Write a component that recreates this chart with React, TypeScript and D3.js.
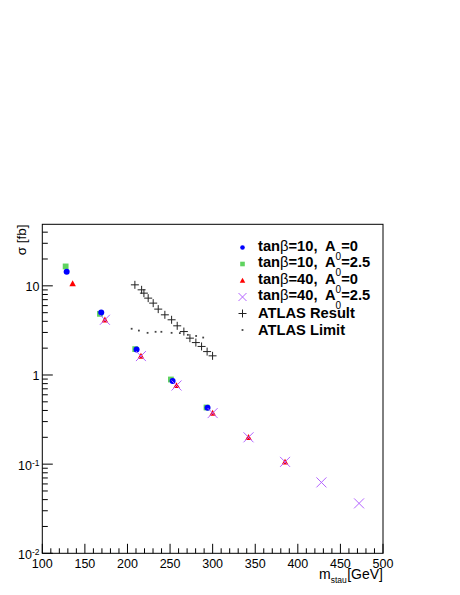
import { useEffect, useRef } from "react";
import * as d3 from "d3";

// tanb=10, A0=0
const blueMass = [128.6, 169.2, 210.7, 253, 294];
const blueXs = [14.4, 5.02, 1.93, 0.855, 0.43];
// tanb=10, A0=2.5
const greenMass = [127.4, 167.7, 209.1, 251, 292.8];
const greenXs = [16.5, 4.85, 1.95, 0.89, 0.432];
// tanb=40, A0=0
const redMass = [135.6, 173.5, 215.8, 257.6, 300, 342.1, 385];
const redXs = [10.6, 4.16, 1.63, 0.762, 0.374, 0.2, 0.106];
// tanb=40, A0=2.5
const violetMass = [173.5, 215.8, 257.6, 300, 342.1, 385, 427.7, 471.9];
const violetXs = [4.16, 1.63, 0.762, 0.374, 0.2, 0.106, 0.0624, 0.0363];
// ATLAS result
const atlasMass = [208.7, 216.6, 219.3, 224.3, 230.2, 236.1, 243.9, 251.8, 258.4, 266.2, 273.3, 280.3, 287, 293.5, 299.9];
const atlasXs = [10.26, 9.02, 8.28, 7.28, 6.4, 5.48, 4.73, 4.16, 3.56, 3.07, 2.59, 2.31, 2.09, 1.83, 1.64];
// ATLAS limit
const limitMass = [204.9, 213.4, 223.6, 233, 239.8, 251.8, 261.5, 270.9, 280.6, 288.9];
const limitXs = [3.3, 3.15, 2.97, 3.05, 3.05, 2.97, 2.95, 2.82, 2.74, 2.63];

const xTickValues = [100, 150, 200, 250, 300, 350, 400, 450, 500];
const yLabelValues = [0.01, 0.1, 1, 10];
const yLabelBase = ["10", "10", "1", "10"];
const yLabelExp = ["-2", "-1", "", ""];

const legendTan = ["tanβ=10,", "tanβ=10,", "tanβ=40,", "tanβ=40,"];
const legendA0 = ["=0", "=2.5", "=0", "=2.5"];
const legendAtlas = ["ATLAS Result", "ATLAS Limit"];

const FONT = "'Liberation Sans', Arial, Helvetica, sans-serif";

export default function App() {
  const ref = useRef<SVGSVGElement>(null);

  useEffect(() => {
    const svg = d3.select(ref.current);
    svg.selectAll("*").remove();

    const x = d3.scaleLinear().domain([100, 500]).range([42.3, 383]);
    const y = d3.scaleLog().domain([0.01, 49]).range([553.3, 224.3]);
    const [x0, x1] = x.range();
    const [yb, yt] = y.range();

    // frame
    svg.append("rect")
      .attr("x", x0).attr("y", yt)
      .attr("width", x1 - x0).attr("height", yb - yt)
      .attr("fill", "none").attr("stroke", "#000").attr("stroke-width", 1);

    // x ticks
    const xt = d3.range(100, 501, 10);
    svg.append("g").selectAll("line").data(xt).enter().append("line")
      .attr("x1", (d) => x(d)).attr("x2", (d) => x(d))
      .attr("y1", yb).attr("y2", (d) => yb - (d % 50 === 0 ? 9.5 : 5))
      .attr("stroke", "#000").attr("stroke-width", 1);
    svg.append("g").selectAll("text").data(xTickValues).enter().append("text")
      .attr("x", (d) => x(d)).attr("y", 567.5)
      .attr("text-anchor", "middle")
      .attr("font-family", FONT).attr("font-size", 12.5)
      .text((d) => d);

    // y ticks
    const isMajor = (v: number) => Math.abs(Math.log10(v) - Math.round(Math.log10(v))) < 1e-6;
    const yt2 = y.ticks().filter((v) => v >= 0.01 && v <= 49);
    svg.append("g").selectAll("line").data(yt2).enter().append("line")
      .attr("x1", x0).attr("x2", (d) => x0 + (isMajor(d) ? 10.5 : 5.5))
      .attr("y1", (d) => y(d)).attr("y2", (d) => y(d))
      .attr("stroke", "#000").attr("stroke-width", 1);
    const yl = svg.append("g").selectAll("text").data(yLabelValues).enter().append("text")
      .attr("x", 39.5).attr("y", (d, i) => y(d) + (yLabelExp[i] ? 6 : 5))
      .attr("text-anchor", "end")
      .attr("font-family", FONT).attr("font-size", 12.5);
    yl.append("tspan").text((d, i) => yLabelBase[i]);
    yl.append("tspan").attr("font-size", 8.5).attr("dy", -4.5).text((d, i) => yLabelExp[i]);

    // axis titles
    svg.append("text")
      .attr("transform", "translate(25.5,224.5) rotate(-90)")
      .attr("text-anchor", "end")
      .attr("font-family", FONT).attr("font-size", 13.5)
      .text("σ [fb]");
    const xtitle = svg.append("text")
      .attr("x", 383).attr("y", 579)
      .attr("text-anchor", "end")
      .attr("font-family", FONT).attr("font-size", 14);
    xtitle.append("tspan").text("m");
    xtitle.append("tspan").attr("font-size", 8.5).attr("dy", 3.5).text("stau");
    xtitle.append("tspan").attr("dy", -3.5).attr("dx", 0.5).text("[GeV]");

    // marker painters
    const green = "#5fd35f";
    const violet = "#b464ff";
    const plotSquare = (g: any, px: number, py: number, s: number) =>
      g.append("rect").attr("x", px - s / 2).attr("y", py - s / 2)
        .attr("width", s).attr("height", s).attr("fill", green);
    const plotCircle = (g: any, px: number, py: number, r: number) =>
      g.append("circle").attr("cx", px).attr("cy", py).attr("r", r).attr("fill", "#0000ff");
    const plotTri = (g: any, px: number, py: number, w: number) =>
      g.append("path")
        .attr("d", `M${px - w / 2},${py + w * 0.4}L${px + w / 2},${py + w * 0.4}L${px},${py - w * 0.5}Z`)
        .attr("fill", "#ff0000");
    const plotX = (g: any, px: number, py: number, h: number) =>
      g.append("path")
        .attr("d", `M${px - h},${py - h}L${px + h},${py + h}M${px - h},${py + h}L${px + h},${py - h}`)
        .attr("stroke", violet).attr("stroke-width", 1).attr("fill", "none");
    const plotPlus = (g: any, px: number, py: number, h: number) =>
      g.append("path")
        .attr("d", `M${px - h},${py}L${px + h},${py}M${px},${py - h}L${px},${py + h}`)
        .attr("stroke", "#222").attr("stroke-width", 1).attr("fill", "none");
    const plotDot = (g: any, px: number, py: number) =>
      g.append("rect").attr("x", px - 0.9).attr("y", py - 0.9)
        .attr("width", 1.8).attr("height", 1.8).attr("fill", "#444");

    const pts = svg.append("g");
    greenMass.forEach((m, i) => plotSquare(pts, x(m), y(greenXs[i]), 5.8));
    blueMass.forEach((m, i) => plotCircle(pts, x(m), y(blueXs[i]), 3));
    redMass.forEach((m, i) => plotTri(pts, x(m), y(redXs[i]), 6.5));
    violetMass.forEach((m, i) => plotX(pts, x(m), y(violetXs[i]), 5));
    atlasMass.forEach((m, i) => plotPlus(pts, x(atlasMass[i]), y(atlasXs[i]), 4));
    limitMass.forEach((m, i) => plotDot(pts, x(m), y(limitXs[i])));

    // legend
    const lg = svg.append("g");
    const mx = 242.5;
    const ly = (i: number) => 247.5 + i * 16.5;
    plotCircle(lg, mx, ly(0), 2.3);
    plotSquare(lg, mx, ly(1), 4.6);
    plotTri(lg, mx, ly(2), 5.5);
    plotX(lg, mx, ly(3), 4);
    plotPlus(lg, mx, ly(4), 4);
    plotDot(lg, mx, ly(5));

    legendTan.forEach((t, i) => {
      const tx = lg.append("text")
        .attr("x", 258).attr("y", ly(i) + 3.3)
        .attr("font-family", FONT).attr("font-size", 14.7).attr("font-weight", "bold");
      tx.append("tspan").text("tan");
      tx.append("tspan").attr("font-weight", "normal").text("β");
      tx.append("tspan").text(t.slice(4));
      tx.append("tspan").attr("dx", 7.5).text("A");
      tx.append("tspan").attr("font-size", 10).attr("font-weight", "normal").attr("dy", 9).text("0");
      tx.append("tspan").attr("dy", -9).text(legendA0[i]);
    });
    legendAtlas.forEach((t, i) => {
      lg.append("text")
        .attr("x", 258).attr("y", ly(i + 4) + 4.5)
        .attr("font-family", FONT).attr("font-size", 14.7).attr("font-weight", "bold")
        .text(t);
    });
  }, []);

  return (
    <svg
      ref={ref}
      width={460}
      height={595}
      style={{ position: "absolute", left: 0, top: 0, background: "#fff" }}
    />
  );
}
